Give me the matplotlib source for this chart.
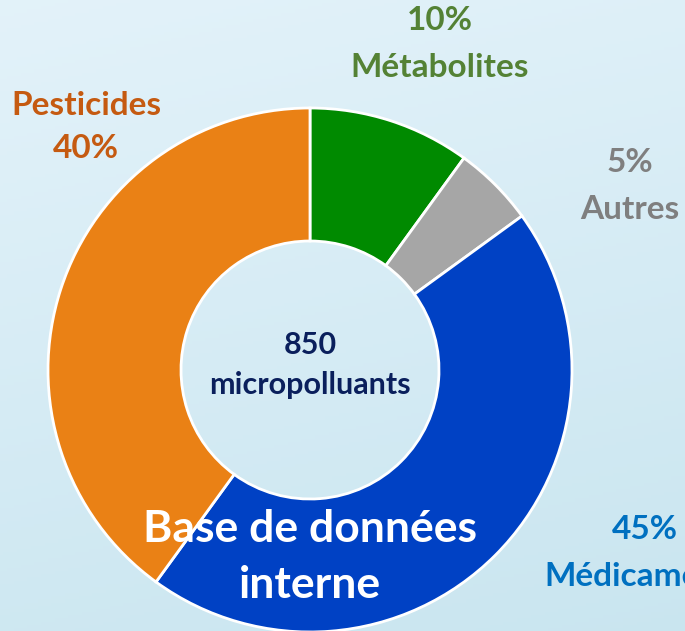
import numpy as np
import matplotlib.pyplot as plt

plt.rcParams['font.family'] = ['Lato', 'DejaVu Sans']

# data
categories = ['Métabolites', 'Autres', 'Médicaments', 'Pesticides']
shares = [10, 5, 45, 40]
slice_colors = ['#008a00', '#a6a6a6', '#0041c4', '#ea8115']
label_colors = ['#548235', '#7f7f7f', '#0070c0', '#c55a11']
center_text = '850\nmicropolluants'
overlay_text = 'Base de données\ninterne'

W, H = 685, 631
fig = plt.figure(figsize=(W / 100, H / 100), dpi=100)
ax = fig.add_axes([0, 0, 1, 1])

# light water-like background
yy, xx = np.mgrid[0:1:200j, 0:1:200j]
bg = np.zeros((200, 200, 3))
top = np.array([0.89, 0.95, 0.98])
bot = np.array([0.79, 0.90, 0.94])
t = (yy * 0.8 + xx * 0.2)[..., None]
bg[:] = top * (1 - t) + bot * t
ax.imshow(bg, extent=(0, W, 0, H), origin='upper', zorder=0, aspect='auto')

cx, cy, r = 310, H - 370, 262
ax.pie(shares, colors=slice_colors, startangle=90, counterclock=False,
       center=(cx, cy), radius=r,
       wedgeprops=dict(width=133, edgecolor='white', linewidth=2))

ax.set_xlim(0, W)
ax.set_ylim(0, H)
ax.set_aspect('auto')
ax.axis('off')

fs = 24
ls = 1.75
# outer labels
ax.text(440, H - 44, f'{shares[0]}%\n{categories[0]}', color=label_colors[0],
        ha='center', va='center', fontsize=fs, fontweight='bold', linespacing=ls)
ax.text(630, H - 186, f'{shares[1]}%\n{categories[1]}', color=label_colors[1],
        ha='center', va='center', fontsize=fs, fontweight='bold', linespacing=ls)
ax.text(645, H - 553, f'{shares[2]}%\n{categories[2]}', color=label_colors[2],
        ha='center', va='center', fontsize=fs, fontweight='bold', linespacing=ls)
ax.text(86, H - 127, f'{categories[3]}\n{shares[3]}%', color=label_colors[3],
        ha='center', va='center', fontsize=fs, fontweight='bold', linespacing=1.6)

ax.text(cx, H - 365, center_text, color='#0a1f5c', ha='center', va='center',
        fontsize=22, fontweight='bold', linespacing=1.55)
ax.text(cx, H - 557, overlay_text, color='white', ha='center', va='center',
        fontsize=32, fontweight='bold', linespacing=1.5)

fig.savefig('out.png', dpi=100)
